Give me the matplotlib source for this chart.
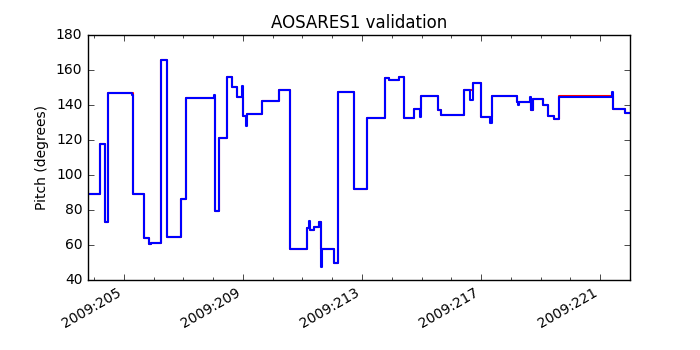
#!/usr/bin/env python3
import matplotlib
matplotlib.use('Agg')
import matplotlib.pyplot as plt
from matplotlib.ticker import MultipleLocator, FuncFormatter

plt.style.use('classic')

# telemetry pitch (blue): step start times (day of year 2009) and values
tlm_days = [203.80, 204.21, 204.37, 204.46, 205.28, 205.30, 205.69, 205.84, 205.92,
            206.24, 206.44, 206.91, 207.09, 208.04, 208.06, 208.21, 208.48, 208.64,
            208.79, 208.98, 209.00, 209.12, 209.15, 209.63, 210.21, 210.58, 211.14,
            211.23, 211.25, 211.40, 211.56, 211.64, 211.67, 212.07, 212.18, 212.74,
            213.17, 213.79, 213.91, 214.25, 214.40, 214.75, 214.95, 214.99, 215.54,
            215.67, 216.42, 216.64, 216.72, 217.01, 217.29, 217.38, 218.21, 218.23,
            218.27, 218.63, 218.67, 218.73, 219.08, 219.25, 219.44, 219.62, 221.40,
            221.44, 221.82, 222.00]
tlm_pitch = [89.1, 117.5, 73.3, 147.0, 146.0, 89.1, 63.8, 60.4, 60.9,
             165.7, 64.8, 86.1, 144.2, 146.0, 79.4, 121.3, 155.8, 150.1,
             144.4, 151.0, 133.9, 128.2, 134.7, 142.1, 148.6, 57.7, 69.5,
             73.9, 68.6, 70.5, 73.1, 47.2, 57.7, 49.5, 147.6, 91.8,
             132.4, 155.6, 154.5, 155.8, 132.6, 137.5, 133.0, 145.1, 137.1,
             134.1, 148.8, 142.9, 152.4, 133.0, 129.5, 145.3, 141.7, 139.9,
             141.7, 144.8, 137.1, 143.6, 140.2, 133.9, 132.2, 144.6, 147.4,
             137.9, 135.6, 135.6]

# model pitch (red), mostly hidden under telemetry
mod_days = [203.80, 204.21, 204.37, 204.46, 205.30, 205.69, 205.84, 205.92, 206.24,
            206.44, 206.91, 207.09, 208.06, 208.21, 208.48, 208.64, 208.79, 209.00,
            209.15, 209.63, 210.21, 210.58, 211.14, 211.25, 211.40, 211.56, 211.64,
            212.07, 212.18, 212.74, 213.17, 213.79, 213.91, 214.25, 214.40, 214.75,
            214.99, 215.54, 215.67, 216.42, 216.72, 217.01, 217.38, 218.21, 218.67,
            218.73, 219.08, 219.25, 219.44, 219.62, 221.43, 221.82, 222.00]
mod_pitch = [89.1, 117.5, 73.3, 147.0, 89.1, 63.8, 60.4, 60.9, 165.7,
             64.8, 86.1, 144.2, 79.4, 121.3, 155.8, 150.1, 144.4, 133.9,
             134.7, 142.1, 148.6, 57.7, 69.5, 68.6, 70.5, 73.1, 57.7,
             49.5, 147.6, 91.8, 132.4, 155.6, 154.5, 155.8, 132.6, 137.5,
             145.1, 137.1, 134.1, 148.8, 152.4, 133.0, 145.3, 141.7, 137.1,
             143.6, 140.2, 133.9, 132.2, 145.3, 137.9, 135.6, 135.6]

fig = plt.figure(figsize=(7, 3.5), dpi=100, facecolor='white')
ax = fig.add_axes([0.1257, 0.2, 0.7743, 0.7])

ax.plot(mod_days, mod_pitch, color='r', lw=1.5, drawstyle='steps-post')
ax.plot(tlm_days, tlm_pitch, color='b', lw=1.5, drawstyle='steps-post')

ax.set_xlim(203.8, 222.0)
ax.set_ylim(40, 180)
ax.yaxis.set_major_locator(MultipleLocator(20))
ax.xaxis.set_major_locator(MultipleLocator(4, offset=1))
ax.xaxis.set_minor_locator(MultipleLocator(1))
ax.xaxis.set_major_formatter(FuncFormatter(lambda d, pos: '2009:%03d' % round(d)))
for lbl in ax.get_xticklabels():
    lbl.set_rotation(30)
    lbl.set_ha('right')

ax.set_title('AOSARES1 validation', fontsize=12)
ax.set_ylabel('Pitch (degrees)', fontsize=10)
ax.tick_params(labelsize=10)

fig.savefig('out.png', dpi=100, facecolor='white')
